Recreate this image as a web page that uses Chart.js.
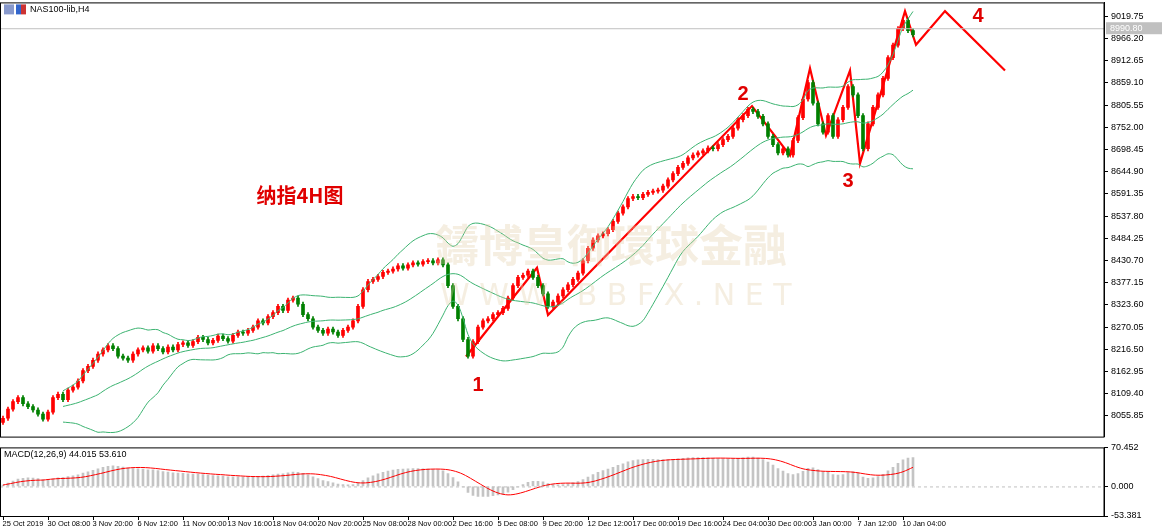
<!DOCTYPE html>
<html>
<head>
<meta charset="utf-8">
<script src="https://cdn.jsdelivr.net/npm/chart.js@4.4.0/dist/chart.umd.min.js"></script>
<style>
  body { margin: 0; background: #fff; width: 1170px; height: 528px; overflow: hidden; }
  #wrap { position: relative; width: 1170px; height: 528px; overflow: hidden; }
  #main { position: absolute; left: 0; top: -6px; }
  #macd { position: absolute; left: 0; top: 439px; }
</style>
</head>
<body>
<div id="wrap">
  <canvas id="main" width="1170" height="451"></canvas>
  <canvas id="macd" width="1170" height="89"></canvas>
</div>
<script>
// 종가 데이터 (H4 캔들, 약 5px 간격으로 읽음)
const closes = [
  8050,8072,8090,8100,8085,8078,8070,8060,8048,8065,
  8100,8108,8095,8118,8125,8140,8165,8175,8190,8205,
  8215,8225,8218,8200,8195,8190,8205,8215,8220,8212,
  8225,8218,8210,8222,8215,8228,8232,8226,8235,8245,
  8240,8232,8238,8248,8242,8236,8250,8258,8255,8262,
  8270,8285,8280,8295,8305,8320,8310,8335,8340,8325,
  8300,8290,8270,8262,8255,8265,8258,8250,8262,8270,
  8285,8320,8360,8380,8385,8392,8402,8405,8410,8418,
  8412,8420,8425,8422,8428,8430,8425,8432,8420,8370,
  8320,8290,8240,8200,8235,8270,8285,8290,8300,8305,
  8315,8340,8370,8390,8395,8405,8390,8370,8350,8320,
  8330,8345,8360,8372,8385,8400,8430,8460,8480,8490,
  8495,8505,8525,8545,8560,8580,8585,8582,8590,8595,
  8598,8600,8610,8625,8640,8655,8665,8678,8685,8690,
  8695,8702,8700,8710,8722,8730,8750,8770,8780,8795,
  8790,8778,8760,8730,8710,8690,8700,8685,8720,8775,
  8820,8860,8810,8760,8740,8780,8730,8770,8800,8850,
  8830,8780,8700,8760,8800,8830,8870,8920,8950,8990,
  9010,8985,8975
];
const priceTicks = [9019.75,8966.20,8912.65,8859.10,8805.55,8752.00,8698.45,8644.90,8591.35,8537.80,8484.25,8430.70,8377.15,8323.60,8270.05,8216.50,8162.95,8109.40,8055.85];
const dateLabels = ["25 Oct 2019","30 Oct 08:00","3 Nov 20:00","6 Nov 12:00","11 Nov 00:00","13 Nov 16:00","18 Nov 04:00","20 Nov 20:00","25 Nov 08:00","28 Nov 00:00","2 Dec 16:00","5 Dec 08:00","9 Dec 20:00","12 Dec 12:00","17 Dec 00:00","19 Dec 16:00","24 Dec 04:00","30 Dec 00:00","3 Jan 00:00","7 Jan 12:00","10 Jan 04:00"];
// 손으로 그린 빨간 파동선 (캔들 인덱스, 가격)
const waveX = [92.6,106.8,109,149.8,157.4,161.4,164.6,169.4,171.4,180.4,182.6,188.4,200.4];
const waveY = [8199,8413,8299,8803,8684,8894,8732,8889,8665,9032,8951,9032,8889];
const waveLabels = ["1","2","3","4"];
const waveLabelX = [95,148,169,195];
const waveLabelY = [8130,8832,8622,9020];
const currentPrice = 8990.80;

const X_MIN = -0.6, X_MAX = 220.2;
const Y_MIN = 8005.8, Y_MAX = 9053.1;
const UP = "#ff0000", DOWN = "#008000";
const FONT = "'Liberation Sans', Arial, sans-serif";

let opens = closes.map((c, i) => i === 0 ? c - 10 : closes[i - 1]);
let bodies = closes.map((c, i) => ({ x: i, y: [opens[i], c] }));
let wicks = closes.map((c, i) => ({ x: i, y: [Math.min(opens[i], c) - 5, Math.max(opens[i], c) + 5] }));
let colors = closes.map((c, i) => c >= opens[i] ? UP : DOWN);

// 볼린저 밴드
let mid = [], upper = [], lower = [];
for (let i = 0; i < closes.length; i++) {
  if (i < 12) continue;
  let s = closes.slice(Math.max(0, i - 19), i + 1);
  let m = s.reduce((a, b) => a + b, 0) / s.length;
  let sd = Math.sqrt(s.reduce((a, b) => a + (b - m) * (b - m), 0) / s.length);
  mid.push({ x: i, y: m });
  upper.push({ x: i, y: m + 2 * sd });
  lower.push({ x: i, y: m - 2 * sd });
}

// MACD
function ema(arr, n) {
  let k = 2 / (n + 1), out = [], prev = arr[0] - 40;
  arr.forEach(v => { prev = v * k + prev * (1 - k); out.push(prev); });
  return out;
}
let e12 = ema(closes, 12), e26 = ema(closes, 26);
let macd = closes.map((c, i) => (e12[i] - e26[i]) * 0.8);
let signal = macd.map((v, i) => {
  let s = macd.slice(Math.max(0, i - 8), i + 1);
  return s.reduce((a, b) => a + b, 0) / s.length;
});

const textPlugin = {
  id: "texts",
  afterDraw(chart) {
    const ctx = chart.ctx, xs = chart.scales.x, ys = chart.scales.y;
    const a = chart.chartArea;
    ctx.save();
    // 워터마크
    ctx.fillStyle = "rgba(225,205,170,0.35)";
    ctx.font = "bold 44px 'Noto Sans CJK TC'";
    ctx.fillText("鑄博皇御環球金融", 435, 268);
    ctx.font = "30px 'DejaVu Sans'";
    ctx.fillText("W W W . B B F X . N E T", 440, 311);
    // 현재가
    let yp = ys.getPixelForValue(currentPrice);
    ctx.strokeStyle = "#c0c0c0"; ctx.lineWidth = 1;
    ctx.beginPath(); ctx.moveTo(0, yp + 0.5); ctx.lineTo(a.right, yp + 0.5); ctx.stroke();
    ctx.fillStyle = "#c0c0c0"; ctx.fillRect(a.right + 2, yp - 6, 56, 12);
    ctx.fillStyle = "#fff"; ctx.font = "9px " + FONT;
    ctx.textBaseline = "middle"; ctx.fillText("8990.80", a.right + 6, yp);
    // 파동 라벨
    ctx.fillStyle = "#e00000"; ctx.font = "bold 20px " + FONT;
    ctx.textAlign = "center";
    waveLabels.forEach((t, i) => ctx.fillText(t, xs.getPixelForValue(waveLabelX[i]), ys.getPixelForValue(waveLabelY[i])));
    ctx.font = "bold 20px 'Noto Sans CJK SC'";
    ctx.fillText("纳指4H图", 300, 201);
    // 제목
    ctx.textAlign = "left"; ctx.fillStyle = "#000"; ctx.font = "9px " + FONT;
    ctx.fillText("NAS100-lib,H4", 30, a.top + 7);
    ctx.fillStyle = "#8899cc"; ctx.fillRect(4, a.top + 2, 10, 10);
    ctx.fillStyle = "#3366cc"; ctx.fillRect(16, a.top + 2, 5, 10);
    ctx.fillStyle = "#cc3333"; ctx.fillRect(21, a.top + 2, 5, 10);
    // 테두리
    ctx.strokeStyle = "#000";
    ctx.strokeRect(0.5, a.top + 0.5, a.right - 0.5, a.bottom - a.top);
    ctx.restore();
  }
};

const xAxisHidden = { type: "linear", min: X_MIN, max: X_MAX, offset: false, display: false };

new Chart(document.getElementById("main"), {
  data: {
    datasets: [
      { type: "line", data: upper, borderColor: "#3cb371", borderWidth: 1, pointRadius: 0, tension: 0.3 },
      { type: "line", data: mid, borderColor: "#3cb371", borderWidth: 1, pointRadius: 0, tension: 0.3 },
      { type: "line", data: lower, borderColor: "#3cb371", borderWidth: 1, pointRadius: 0, tension: 0.3 },
      { type: "bar", data: wicks, backgroundColor: colors, barThickness: 1, grouped: false },
      { type: "bar", data: bodies, backgroundColor: colors, barThickness: 3, grouped: false, minBarLength: 1 },
      { type: "line", data: waveX.map((x, i) => ({ x: x, y: waveY[i] })), borderColor: "#ff0000", borderWidth: 2.2, pointRadius: 0, tension: 0 }
    ]
  },
  options: {
    responsive: false, animation: false, events: [],
    layout: { padding: { top: 0, bottom: 1, left: 0 } },
    plugins: { legend: { display: false }, tooltip: { enabled: false } },
    scales: {
      x: xAxisHidden,
      y: {
        position: "right", min: Y_MIN, max: Y_MAX,
        afterBuildTicks: s => { s.ticks = priceTicks.map(v => ({ value: v })); },
        afterFit: s => { s.width = 66; },
        grid: { drawOnChartArea: false, tickLength: 4, color: "#000" },
        border: { color: "#000" },
        ticks: { color: "#000", font: { size: 9, family: FONT }, padding: 3, callback: v => v.toFixed(2) }
      }
    }
  },
  plugins: [textPlugin]
});

const macdPlugin = {
  id: "macdTexts",
  afterDraw(chart) {
    const ctx = chart.ctx, xs = chart.scales.x, a = chart.chartArea;
    ctx.save();
    ctx.strokeStyle = "#c0c0c0"; ctx.setLineDash([3, 3]);
    let y0 = chart.scales.y.getPixelForValue(0);
    ctx.beginPath(); ctx.moveTo(0, y0 + 0.5); ctx.lineTo(a.right, y0 + 0.5); ctx.stroke();
    ctx.setLineDash([]);
    ctx.strokeStyle = "#000";
    ctx.strokeRect(0.5, a.top + 0.5, a.right - 0.5, a.bottom - a.top);
    ctx.fillStyle = "#000"; ctx.font = "9px " + FONT;
    ctx.fillText("MACD(12,26,9) 44.015 53.610", 4, a.top + 10);
    ctx.font = "7.5px " + FONT;
    dateLabels.forEach((t, i) => {
      let x = Math.round(xs.getPixelForValue(i * 9)) + 0.5;
      ctx.beginPath(); ctx.moveTo(x, a.bottom); ctx.lineTo(x, a.bottom + 4); ctx.stroke();
      ctx.fillText(t, x - 1, a.bottom + 10);
    });
    ctx.restore();
  }
};

new Chart(document.getElementById("macd"), {
  data: {
    datasets: [
      { type: "line", data: signal.map((v, i) => ({ x: i, y: v })), borderColor: "#ff0000", borderWidth: 1, pointRadius: 0, tension: 0.3 },
      { type: "bar", data: macd.map((v, i) => ({ x: i, y: v })), backgroundColor: "#c4c4c4", barThickness: 2, grouped: false }
    ]
  },
  options: {
    responsive: false, animation: false, events: [],
    layout: { padding: { top: 0, bottom: 12, left: 0 } },
    plugins: { legend: { display: false }, tooltip: { enabled: false } },
    scales: {
      x: xAxisHidden,
      y: {
        position: "right", min: -53.381, max: 70.452,
        afterBuildTicks: s => { s.ticks = [70.452, 0, -53.381].map(v => ({ value: v })); },
        afterFit: s => { s.width = 66; },
        grid: { drawOnChartArea: false, tickLength: 4, color: "#000" },
        border: { color: "#000" },
        ticks: { color: "#000", font: { size: 9, family: FONT }, padding: 3,
          callback: v => v === 0 ? "0.000" : v.toFixed(3) }
      }
    }
  },
  plugins: [macdPlugin]
});
</script>
</body>
</html>
